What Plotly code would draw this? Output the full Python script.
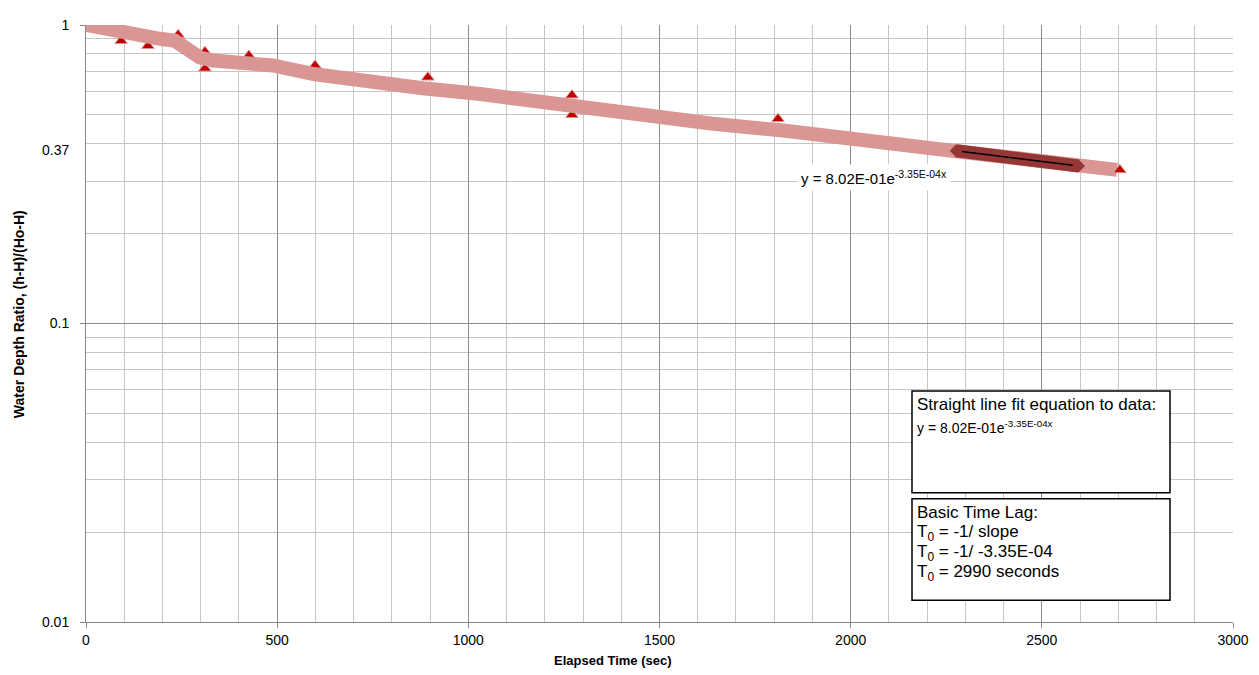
import plotly.graph_objects as go

# ---------------- data ----------------
band_x = [0, 37, 81, 141, 162, 194, 233, 246, 264, 298, 332, 429, 489, 599,
          735, 881, 1031, 1258, 1405, 1640, 1823, 1920, 2260, 2697]
band_y = [1.000, 0.977, 0.948, 0.920, 0.899, 0.899, 0.885, 0.865, 0.820, 0.778,
          0.760, 0.743, 0.732, 0.684, 0.643, 0.614, 0.587, 0.536, 0.504, 0.467,
          0.443, 0.426, 0.380, 0.327]

tri_x = [92, 162, 241, 311, 311, 426, 599, 894, 1271, 1271, 1810]
tri_y = [0.885, 0.852, 0.927, 0.814, 0.716, 0.790, 0.732, 0.668, 0.582, 0.500, 0.485]

tri_last_x = [2704]
tri_last_y = [0.327]

fit_band_x = [2276, 2596]
fit_band_y = [0.379, 0.337]

trend_x = [2291, 2581]
trend_y = [0.377, 0.339]

x_ticks = [0, 500, 1000, 1500, 2000, 2500, 3000]
y_ticks = [0.01, 0.1, 1]
y_tick_text = ["0.01", "0.1", "1"]
y_minor = [0.02, 0.03, 0.04, 0.05, 0.06, 0.07, 0.08, 0.09,
           0.2, 0.3, 0.4, 0.5, 0.6, 0.7, 0.8, 0.9]

eq_text = "y = 8.02E-01e<sup>-3.35E-04x</sup>"
box1_lines = ["Straight line fit equation to data:", eq_text]
box2_lines = ["Basic Time Lag:", "T<sub>0</sub> = -1/ slope",
              "T<sub>0</sub> = -1/ -3.35E-04", "T<sub>0</sub> = 2990 seconds"]

# ---------------- layout geometry ----------------
# page has an 8px body margin, so the figure is shifted by 8px
OFF = 8
W, H = 1259 - OFF, 675 - OFF
L, R, T, B = 86, 1233, 17, 622   # plot area in page pixels


def px(xp):
    return (xp - L) / (R - L)


def py(yp):
    return (B - yp) / (B - T)


FONT = "Liberation Sans, Arial, sans-serif"
PINK = "#D99694"
DARK = "#953735"
RED = "#C00000"

fig = go.Figure()

# red triangles (under the band)
fig.add_trace(go.Scatter(
    x=tri_x, y=tri_y, mode="markers",
    marker=dict(symbol="triangle-up", size=11, color=RED,
                line=dict(color=PINK, width=1)),
    hoverinfo="skip", showlegend=False))

# pink data band
sizes = [11] + [0] * (len(band_x) - 1)
fig.add_trace(go.Scatter(
    x=band_x, y=band_y, mode="lines+markers",
    line=dict(color=PINK, width=14),
    marker=dict(symbol="diamond", size=sizes, color=PINK, line=dict(width=0)),
    hoverinfo="skip", showlegend=False))

# last triangle on top
fig.add_trace(go.Scatter(
    x=tri_last_x, y=tri_last_y, mode="markers",
    marker=dict(symbol="triangle-up", size=11, color=RED,
                line=dict(color=PINK, width=1)),
    hoverinfo="skip", showlegend=False))

# dark fitted segment
fig.add_trace(go.Scatter(
    x=fit_band_x, y=fit_band_y, mode="lines+markers",
    line=dict(color=DARK, width=13),
    marker=dict(symbol="diamond", size=10, color=DARK, line=dict(width=0)),
    hoverinfo="skip", showlegend=False))

# black trend line
fig.add_trace(go.Scatter(
    x=trend_x, y=trend_y, mode="lines",
    line=dict(color="black", width=1.5),
    hoverinfo="skip", showlegend=False))

annotations = []

# equation label on chart
annotations.append(dict(
    xref="paper", yref="paper", x=px(797), y=py(172),
    xanchor="left", yanchor="middle", showarrow=False,
    text=eq_text, bgcolor="white", borderpad=3,
    font=dict(family=FONT, size=15, color="black")))

# box 1 text
annotations.append(dict(
    xref="paper", yref="paper", x=px(915), y=py(402),
    xanchor="left", yanchor="middle", showarrow=False,
    text=box1_lines[0], font=dict(family=FONT, size=17, color="black")))
annotations.append(dict(
    xref="paper", yref="paper", x=px(915), y=py(424),
    xanchor="left", yanchor="middle", showarrow=False,
    text=box1_lines[1], font=dict(family=FONT, size=14, color="black")))

# box 2 text
for yy, line in zip([511.5, 531.7, 551.7, 572.3], box2_lines):
    annotations.append(dict(
        xref="paper", yref="paper", x=px(915), y=py(yy),
        xanchor="left", yanchor="middle", showarrow=False,
        text=line, font=dict(family=FONT, size=17, color="black")))

# 0.37 label
annotations.append(dict(
    xref="paper", yref="paper", x=px(71), y=py(143.5),
    xanchor="right", yanchor="middle", showarrow=False,
    text="0.37", font=dict(family=FONT, size=14, color="black")))

# axis titles
annotations.append(dict(
    xref="paper", yref="paper", x=px(613), y=py(661),
    xanchor="center", yanchor="middle", showarrow=False,
    text="<b>Elapsed Time (sec)</b>", font=dict(family=FONT, size=13, color="black")))
annotations.append(dict(
    xref="paper", yref="paper", x=px(19), y=py(310),
    xanchor="center", yanchor="middle", showarrow=False, textangle=-90,
    text="<b>Water Depth Ratio, (h-H)/(Ho-H)</b>",
    font=dict(family=FONT, size=14, color="black")))

shapes = [
    dict(type="rect", xref="paper", yref="paper",
         x0=px(912), x1=px(1170), y0=py(491), y1=py(388),
         line=dict(color="black", width=1.5), fillcolor="white", layer="above"),
    dict(type="rect", xref="paper", yref="paper",
         x0=px(912), x1=px(1170), y0=py(600), y1=py(497),
         line=dict(color="black", width=1.5), fillcolor="white", layer="above"),
]

fig.update_layout(
    width=W, height=H,
    margin=dict(l=L - OFF, r=(W + OFF) - R, t=T - OFF, b=(H + OFF) - B),
    paper_bgcolor="white", plot_bgcolor="white",
    font=dict(family=FONT, color="black"),
    annotations=annotations,
    shapes=shapes,
    showlegend=False,
)

fig.update_xaxes(
    range=[0, 3000], tickvals=x_ticks,
    showgrid=True, gridcolor="#8C8C8C", gridwidth=1,
    minor=dict(dtick=100, showgrid=True, gridcolor="#C6C6C6", gridwidth=1.2,
               ticks=""),
    showline=True, linecolor="#868686", linewidth=1,
    ticks="outside", ticklen=5, tickcolor="#868686",
    tickfont=dict(family=FONT, size=14, color="black"),
    zeroline=False,
)

fig.update_yaxes(
    type="log", range=[-2, 0],
    tickvals=y_ticks, ticktext=y_tick_text,
    showgrid=True, gridcolor="#8C8C8C", gridwidth=1,
    minor=dict(tickmode="array", tickvals=y_minor, showgrid=True,
               gridcolor="#C6C6C6", gridwidth=1.2, ticks=""),
    showline=True, linecolor="#868686", linewidth=1,
    ticks="outside", ticklen=5, tickcolor="#868686",
    ticklabelstandoff=8,
    tickfont=dict(family=FONT, size=14, color="black"),
    zeroline=False,
)

fig.write_html("out.html")
